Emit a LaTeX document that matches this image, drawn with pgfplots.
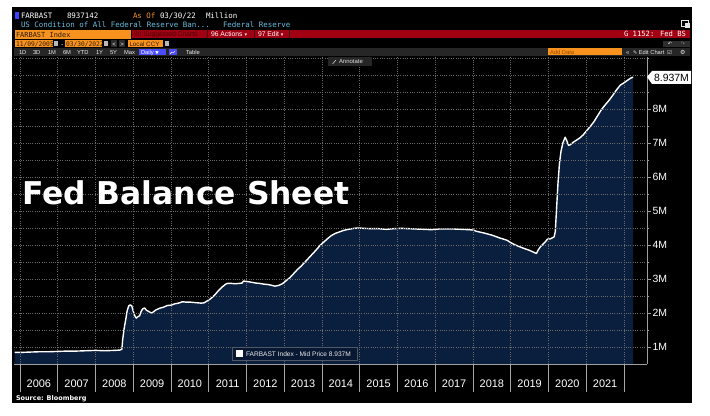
\documentclass[border=0pt]{standalone}
\usepackage{pgfplots}
\pgfplotsset{compat=1.18}
\usepackage{pgfplotstable}
\usepackage{fontspec}
\setmainfont{Liberation Sans}
\newfontfamily\dvs{DejaVu Sans}
\newfontfamily\dvsmono{DejaVu Sans Mono}
\definecolor{navy}{RGB}{10,30,62}
\definecolor{bbor}{RGB}{247,146,30}
\definecolor{bbred}{RGB}{160,0,18}
\definecolor{bbdred}{RGB}{75,0,8}
\definecolor{bbcyan}{RGB}{105,190,222}
\definecolor{gridc}{RGB}{105,105,105}
\definecolor{barg}{RGB}{38,38,38}
\pgfplotstableread{
x y
2005.86 0.84
2006.00 0.84
2006.25 0.85
2006.50 0.86
2006.75 0.86
2007.00 0.87
2007.25 0.88
2007.50 0.88
2007.75 0.89
2008.00 0.90
2008.25 0.89
2008.50 0.90
2008.65 0.91
2008.70 0.94
2008.72 1.22
2008.76 1.55
2008.80 1.80
2008.84 2.07
2008.88 2.21
2008.92 2.24
2008.96 2.21
2009.00 2.05
2009.04 1.92
2009.08 1.85
2009.12 1.89
2009.17 1.92
2009.21 2.05
2009.25 2.12
2009.30 2.15
2009.35 2.08
2009.40 2.05
2009.45 2.02
2009.50 2.00
2009.55 2.05
2009.60 2.09
2009.70 2.14
2009.80 2.17
2009.90 2.22
2010.00 2.23
2010.10 2.27
2010.20 2.29
2010.30 2.33
2010.40 2.32
2010.50 2.32
2010.60 2.31
2010.70 2.30
2010.80 2.29
2010.88 2.30
2010.95 2.35
2011.05 2.42
2011.15 2.52
2011.25 2.65
2011.35 2.76
2011.45 2.85
2011.50 2.87
2011.60 2.87
2011.70 2.86
2011.80 2.87
2011.88 2.88
2011.92 2.94
2011.98 2.93
2012.05 2.92
2012.15 2.90
2012.25 2.88
2012.35 2.87
2012.45 2.85
2012.55 2.84
2012.65 2.82
2012.75 2.79
2012.85 2.81
2012.95 2.86
2013.05 2.95
2013.15 3.04
2013.25 3.16
2013.35 3.28
2013.45 3.38
2013.55 3.50
2013.65 3.62
2013.75 3.74
2013.85 3.86
2013.95 3.99
2014.05 4.09
2014.15 4.19
2014.25 4.28
2014.35 4.34
2014.45 4.38
2014.55 4.42
2014.65 4.45
2014.75 4.47
2014.85 4.49
2014.95 4.50
2015.10 4.49
2015.30 4.48
2015.50 4.48
2015.70 4.46
2015.90 4.48
2016.10 4.49
2016.30 4.48
2016.50 4.47
2016.70 4.46
2016.90 4.45
2017.10 4.47
2017.30 4.47
2017.50 4.47
2017.70 4.46
2017.90 4.45
2018.00 4.44
2018.10 4.40
2018.30 4.35
2018.50 4.29
2018.70 4.21
2018.90 4.14
2019.00 4.07
2019.10 4.01
2019.30 3.92
2019.50 3.84
2019.60 3.79
2019.68 3.75
2019.72 3.84
2019.78 3.94
2019.85 4.02
2019.92 4.10
2019.97 4.17
2020.05 4.18
2020.15 4.24
2020.18 4.40
2020.21 5.00
2020.25 5.80
2020.29 6.40
2020.33 6.75
2020.38 7.00
2020.44 7.17
2020.48 7.08
2020.53 6.93
2020.58 6.95
2020.65 7.02
2020.75 7.09
2020.83 7.15
2020.92 7.24
2021.00 7.35
2021.10 7.48
2021.20 7.62
2021.30 7.80
2021.40 7.98
2021.50 8.12
2021.60 8.25
2021.70 8.40
2021.80 8.56
2021.90 8.70
2022.00 8.77
2022.10 8.85
2022.18 8.91
2022.24 8.937
}\fedbs
\newcommand\mono[1]{\dvsmono\fontsize{#1}{#1}\selectfont}
\newcommand\sz[1]{\fontsize{#1}{#1}\selectfont}
\begin{document}
\begin{tikzpicture}
\fill[white] (0,0) rectangle (710bp,416bp);
\begin{scope}[x=1bp,y=-1bp,yshift=416bp]
\fill[black] (12,7) rectangle (692,403);
\end{scope}
\begin{axis}[
  at={(14bp,52bp)}, anchor=south west,
  scale only axis, width=633bp, height=307bp,
  xmin=2005.841, xmax=2022.609,
  ymin=0.5, ymax=9.529,
  axis x line*=bottom, axis y line*=right,
  axis line style={draw=gray!75, line width=0.7bp},
  axis on top,
  xtick={2006.5,2007.5,2008.5,2009.5,2010.5,2011.5,2012.5,2013.5,2014.5,2015.5,2016.5,2017.5,2018.5,2019.5,2020.5,2021.5},
  xticklabels={2006,2007,2008,2009,2010,2011,2012,2013,2014,2015,2016,2017,2018,2019,2020,2021},
  minor xtick={2006,2007,...,2022},
  x tick style={draw=none},
  xticklabel style={text=white, font=\sz{11}, anchor=center, yshift=-16bp},
  ytick={1,2,...,8},
  yticklabels={1M,2M,3M,4M,5M,6M,7M,8M},
  minor ytick={1.5,2.5,3.5,4.5,5.5,6.5,7.5,8.5,9,9.5},
  yticklabel style={text=white, font=\sz{10.5}, anchor=west, xshift=-2bp},
  y tick style={draw=gray!75, line width=0.6bp},
  tick align=outside,
  major tick length=4bp, minor tick length=2.5bp,
  xminorgrids, ymajorgrids, yminorgrids,
  grid style={gridc, dash pattern=on 0.7bp off 1.6bp, line width=0.5bp},
  minor grid style={gridc, dash pattern=on 0.7bp off 1.6bp, line width=0.5bp},
]
\addplot[draw=none, fill=navy] table[x=x,y=y] {\fedbs} \closedcycle;
\addplot[white, line width=1.4bp, line join=round] table[x=x,y=y] {\fedbs};
\end{axis}
\begin{scope}[x=1bp,y=-1bp,yshift=416bp, every node/.style={inner sep=0pt, outer sep=0pt}]
% year separators
\foreach \k in {0,...,16} {
  \draw[gray!70, line width=0.6bp] ({20+\k*37.75},364) -- ({20+\k*37.75},392);
}
% title
\node[anchor=base west, text=white, font=\dvs\bfseries\sz{31.5}] at (22,205) {Fed Balance Sheet};
% legend
\fill[navy!80!black, draw=gray!60!navy, line width=0.5bp] (232,347) rectangle (357,360);
\fill[white] (236,350) rectangle (243,357);
\node[anchor=base west, text=white!85!gray, font=\sz{6.6}] at (246,356.5) {FARBAST Index - Mid Price 8.937M};
% last value label
\fill[white] (647,77) -- (652,71) -- (691,71) -- (691,84) -- (652,84) -- cycle;
\node[anchor=center, text=black, font=\sz{10.5}] at (671.5,77.8) {8.937M};
% source
\node[anchor=base west, text=white, font=\dvs\bfseries\sz{6.5}] at (16,400.5) {Source: Bloomberg};
% ---------- header ----------
\fill[blue!75!white] (15,12) rectangle (18.5,19);
\node[anchor=base west, text=white, font=\mono{7.5}] at (21,18.5) {FARBAST};
\node[anchor=base west, text=white, font=\mono{7.5}] at (67,18.5) {8937142};
\node[anchor=base west, text=bbor, font=\mono{7.5}] at (133,18.5) {As Of};
\node[anchor=base west, text=white, font=\mono{7.5}] at (160,18.5) {03/30/22};
\node[anchor=base west, text=white, font=\mono{7.5}] at (206,18.5) {Million};
\node[anchor=base west, text=bbcyan, font=\mono{7.5}] at (21,28) {US Condition of All Federal Reserve Ban...};
\node[anchor=base west, text=bbcyan, font=\mono{7.5}] at (223,28) {Federal Reserve};
% row 3
\fill[bbor] (15,30) rectangle (131,39);
\node[anchor=base west, text=black!80!bbor, font=\mono{7}] at (16,37.5) {FARBAST Index};
\fill[bbred] (132,30) rectangle (690,38.5);
\draw[black!60!bbred, line width=0.8bp] (207,30) -- (207,38.5) (254,30) -- (254,38.5) (289,30) -- (289,38.5);
\node[anchor=base west, text=bbdred, font=\sz{6.8}] at (134,37) {90 Suggested Charts};
\node[anchor=base west, text=white, font=\sz{6.8}] at (211,37) {96 Actions {\dvs\sz{5}\raisebox{0.3bp}{▾}}};
\node[anchor=base west, text=white, font=\sz{6.8}] at (258,37) {97 Edit {\dvs\sz{5}\raisebox{0.3bp}{▾}}};
\node[anchor=base east, text=white, font=\mono{7.2}] at (686,37) {G 1152: Fed BS};
% row 4
\fill[bbor] (15,40.5) rectangle (53,47.5);
\node[anchor=base west, text=black!80!bbor, font=\mono{6.3}] at (16,46.5) {11/09/2005};
\fill[gray!55] (54,41.5) rectangle (58,46.5);
\node[anchor=base west, text=white, font=\sz{6.5}] at (61,46.5) {-};
\fill[bbor] (65,40.5) rectangle (102,47.5);
\node[anchor=base west, text=black!80!bbor, font=\mono{6.3}] at (66,46.5) {03/30/2022};
\fill[gray!55] (103.5,41.5) rectangle (107.5,46.5);
\fill[gray!35!black] (111,40.5) rectangle (117,47.5);
\node[anchor=base, text=white, font=\sz{6}] at (114,46.2) {<};
\fill[gray!35!black] (119,40.5) rectangle (125,47.5);
\node[anchor=base, text=white, font=\sz{6}] at (122,46.2) {>};
\fill[bbor] (128,40.5) rectangle (163,47.5);
\node[anchor=base west, text=black!80!bbor, font=\sz{6.3}] at (129.5,46.5) {Local CCY};
\fill[gray!55] (165,41.5) rectangle (169,46.5);
\fill[gray!35!black] (663,41.5) rectangle (690,47);
\node[anchor=base, text=white, font=\dvs\sz{5}] at (670,46) {↶};
\node[anchor=base, text=gray, font=\dvs\sz{5}] at (683,46) {↷};
% row 5
\fill[barg] (14,48) rectangle (690,56);
\node[anchor=base west, text=white!85!gray, font=\sz{5.8}] at (19,54.5) {1D};
\node[anchor=base west, text=white!85!gray, font=\sz{5.8}] at (33,54.5) {3D};
\node[anchor=base west, text=white!85!gray, font=\sz{5.8}] at (48,54.5) {1M};
\node[anchor=base west, text=white!85!gray, font=\sz{5.8}] at (63,54.5) {6M};
\node[anchor=base west, text=white!85!gray, font=\sz{5.8}] at (77,54.5) {YTD};
\node[anchor=base west, text=white!85!gray, font=\sz{5.8}] at (96,54.5) {1Y};
\node[anchor=base west, text=white!85!gray, font=\sz{5.8}] at (110,54.5) {5Y};
\node[anchor=base west, text=white!85!gray, font=\sz{5.8}] at (124,54.5) {Max};
\fill[blue!70!white] (139,49) rectangle (166,55.5);
\node[anchor=base west, text=white, font=\sz{5.8}] at (141,54.5) {Daily {\dvs\sz{4.5}▼}};
\fill[blue!70!white] (168.5,49) rectangle (176.5,55.5);
\draw[white, line width=0.4bp] (170,54) -- (172,52) -- (173.5,53) -- (175,51);
\node[anchor=base west, text=white!85!gray, font=\sz{5.8}] at (186,54.5) {Table};
\fill[bbor] (548,48.5) rectangle (622,55.5);
\node[anchor=base west, text=orange!60!black, font=\sz{5.8}] at (550,54.3) {Add Data};
\node[anchor=base west, text=white!85!gray, font=\sz{6}] at (626,54.3) {«};
\node[anchor=base west, text=white!85!gray, font=\sz{5.8}] at (633,54.3) {{\dvs\sz{5}✎} Edit Chart};
\node[anchor=base west, text=white!85!gray, font=\dvs\sz{5.5}] at (667,54.3) {☑};
\node[anchor=base west, text=white!85!gray, font=\dvs\sz{6}] at (680,54.3) {⚙};
% annotate button
\fill[barg] (328,57) rectangle (372,66);
\draw[white!75!gray, line width=0.5bp] (332.5,64) -- (336,60);
\node[anchor=base west, text=white!75!gray, font=\sz{6}] at (339,64) {Annotate};
% resize icon
\draw[white!80!gray, line width=0.5bp] (681,20) rectangle (688,26);
\fill[white!80!gray] (685,23) rectangle (690,28);
\end{scope}
\end{tikzpicture}
\end{document}
